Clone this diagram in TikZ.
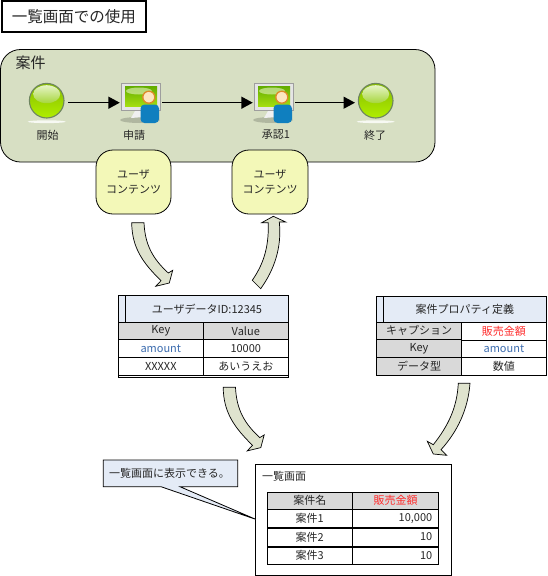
\documentclass[tikz,border=0pt]{standalone}
\usepackage{fontspec}
\setmainfont{Noto Sans CJK JP}
\usetikzlibrary{arrows.meta}
\definecolor{casefill}{HTML}{D7DFC3}
\definecolor{bubblefill}{HTML}{F3F8B8}
\definecolor{bendfill}{HTML}{DFE3CE}
\definecolor{headblue}{HTML}{E4EBF6}
\definecolor{headgray}{HTML}{D9D9D9}
\definecolor{keyblue}{HTML}{3D6DAF}
\definecolor{capred}{HTML}{FF2A2A}
\definecolor{inkgray}{HTML}{262626}
\definecolor{ballring}{HTML}{6E8560}
\definecolor{balltop}{HTML}{86BC00}
\definecolor{ballbottom}{HTML}{B0EE00}
\definecolor{glosstop}{HTML}{E6F4C6}
\definecolor{glossbottom}{HTML}{A6D63C}
\definecolor{screentop}{HTML}{62AC00}
\definecolor{screenbottom}{HTML}{A4DE10}
\definecolor{bodyblue}{HTML}{0F7FBF}
\definecolor{headrim}{HTML}{DE8A28}
\definecolor{facefill}{HTML}{FCE6C0}
\tikzset{
  cell/.style 2 args={draw=black, line width=0.8pt, rectangle, minimum width=#1pt, minimum height=#2pt, inner sep=0pt, font=\fontsize{11}{13}\selectfont, text=inkgray},
  numcell/.style={cell={86.4}{18}, text width=73.6pt, align=right, inner xsep=6.4pt},
  iconbox/.style={minimum height=40pt, inner sep=0pt, rectangle},
  bubble/.style={draw=black, line width=0.8pt, fill=bubblefill, rounded corners=17pt, minimum width=75pt, minimum height=64pt, inner sep=0pt, align=center, font=\fontsize{11}{15}\selectfont, text=inkgray},
  caption/.style={font=\fontsize{11}{13}\selectfont, text=inkgray, inner sep=0pt},
  flow/.style={line width=1.5pt, -{Triangle[length=11.5pt,width=12pt]}},
  bentarrow/.style={draw=black, line width=0.7pt, fill=bendfill, line join=miter},
  sphere/.pic={
    \fill[white!80!casefill] (0,21) ellipse (19pt and 1.4pt);
    \shade[top color=balltop, bottom color=ballbottom, draw=ballring, line width=1.1pt] (0,0) circle (17.3pt);
    \shade[top color=glosstop, bottom color=glossbottom] (0,-6.5) ellipse (13.5pt and 9pt);
  },
  usericon/.pic={
    \fill[black!18!casefill] (-1,17) ellipse (20pt and 3pt);
    \fill[black!6] (-6,8) -- (2,8) -- (3,14) -- (-10,15) -- cycle;
    \fill[black!38] (-20,-20) rectangle (20,8);
    \fill[black!10] (-19,-19) rectangle (19,7);
    \shade[top color=screentop, bottom color=screenbottom] (-16,-17) rectangle (16,3);
    \fill[glosstop, opacity=0.6] (-2,-12) ellipse (13pt and 3.5pt);
    \fill[bodyblue, rounded corners=4pt] (-0.5,1.5) rectangle (18,20);
    \draw[headrim, fill=facefill, line width=1.3pt] (7.8,-5.8) circle (6pt);
  },
  bentdown/.pic={
    \draw[bentarrow] (131.7,222.7) -- (144,222.7) .. controls (145,245) and (153,259) .. (168.3,273) -- (172.7,270.3) -- (169.3,283) -- (155.7,286.3) -- (161,280.7) .. controls (143,263) and (132,248) .. cycle;
  },
}
\begin{document}
\begin{tikzpicture}[x=1pt, y=-1pt]
  \useasboundingbox (0,0) rectangle (547,576);
  % title
  \node[cell={144}{31}, line width=1.2pt, font=\fontsize{15.5}{18}\selectfont] (title) at (74,16.5) {一覧画面での使用};
  % flow
  \draw[draw=black, line width=0.8pt, fill=casefill, rounded corners=20pt] (0.5,49.5) rectangle (435,162);
  \node[caption, font=\fontsize{15}{18}\selectfont] (caseTitle) at (30.7,63) {案件};
  \node[iconbox, minimum width=43pt] (start) at (46.7,102.7) {};
  \node[iconbox, minimum width=42pt] (apply) at (141,102.7) {};
  \node[iconbox, minimum width=42pt] (approve) at (274,102.7) {};
  \node[iconbox, minimum width=41pt] (finish) at (375.7,102.7) {};
  \pic at (46.7,100.7) {sphere};
  \pic at (141,103) {usericon};
  \pic at (274,103) {usericon};
  \pic at (375.7,100.7) {sphere};
  \draw[flow] (start) -- (apply);
  \draw[flow] (apply) -- (approve);
  \draw[flow] (approve) -- (finish);
  \node[caption] (startLabel) at (47.7,135) {開始};
  \node[caption] (applyLabel) at (134,135) {申請};
  \node[caption] (approveLabel) at (276,135) {承認1};
  \node[caption] (finishLabel) at (375,135) {終了};
  \node[bubble] (contentA) at (133.5,182) {ユーザ\\コンテンツ};
  \node[bubble, minimum width=76pt] (contentB) at (270,182) {ユーザ\\コンテンツ};
  % arrows between the parts
  \pic at (0,0) {bentdown};
  \pic at (91.5,164.6) {bentdown};
  \draw[bentarrow] (252.3,280.3) .. controls (262,266) and (269,250) .. (268.3,222.7) -- (261.7,222.7) -- (273.3,216.3) -- (285.7,222) -- (279.3,222) .. controls (282,248) and (274,270) .. (260.7,288.7) -- cycle;
  \draw[bentarrow] (458.3,383.3) -- (470,383.3) .. controls (468,410) and (457,432) .. (441,449.7) -- (446.7,455.3) -- (433.3,454) -- (427.3,441.3) -- (433.3,444.7) .. controls (448,426) and (457,408) .. cycle;
  % user data table
  \node[cell={7.4}{27}, fill=headblue] (userMark) at (122,308.8) {};
  \node[cell={162.6}{27}, fill=headblue] (userHead) at (207,308.8) {ユーザデータID:12345};
  \node[cell={85}{17}, fill=headgray] (userKey) at (160.8,330.8) {Key};
  \node[cell={85}{17}, fill=headgray] (userValue) at (245.8,330.8) {Value};
  \node[cell={85}{18}, text=keyblue] (userAmount) at (160.8,348.3) {amount};
  \node[cell={85}{18}] (userTen) at (245.8,348.3) {10000};
  \node[cell={85}{17.7}] (userX) at (160.8,366.2) {XXXXX};
  \node[cell={85}{17.7}] (userKana) at (245.8,366.2) {あいうえお};
  \node[cell={170}{2.3}, minimum height=2.3pt] (userEnd) at (203.3,376.2) {};
  % property table
  \node[cell={6.6}{25.6}, fill=headblue] (propMark) at (380,309.5) {};
  \node[cell={163.2}{25.6}, fill=headblue] (propHead) at (464.9,309.5) {案件プロパティ定義};
  \node[cell={84.6}{17}, fill=headgray] (propCaption) at (419,330.8) {キャプション};
  \node[cell={84.6}{18}, fill=headgray] (propKey) at (419,348.3) {Key};
  \node[cell={84.6}{18}, fill=headgray] (propType) at (419,366.3) {データ型};
  \node[cell={85.2}{18.4}, text=capred] (propSales) at (503.9,331.5) {販売金額};
  \node[cell={85.2}{16.6}, text=keyblue] (propAmount) at (503.9,349) {amount};
  \node[cell={85.2}{18}] (propNumber) at (503.9,366.3) {数値};
  % list screen
  \node[cell={195.4}{110.8}, anchor=north west] (screen) at (255.3,464.3) {};
  \node[caption] (screenTitle) at (284,476.7) {一覧画面};
  \node[cell={85}{17}, fill=headgray] (listName) at (309.8,500.8) {案件名};
  \node[cell={86.4}{17}, fill=headgray, text=capred] (listSales) at (395.5,500.8) {販売金額};
  \node[cell={85}{18}] (rowA) at (309.8,518.3) {案件1};
  \node[numcell] (numA) at (395.5,518.3) {10,000};
  \node[cell={85}{18}] (rowB) at (309.8,537) {案件2};
  \node[numcell] (numB) at (395.5,537) {10};
  \node[cell={85}{17.3}] (rowC) at (309.8,555.6) {案件3};
  \node[numcell, minimum height=17.3pt] (numC) at (395.5,555.6) {10};
  % note
  \coordinate (noteTip) at (255.7,519.3);
  \draw[draw=black, line width=0.8pt, fill=headblue] (103.3,460) -- (237.7,460) -- (237.7,486.7) -- (180,486.7) -- (noteTip) -- (161,486.7) -- (103.3,486.7) -- cycle;
  \node[caption] (note) at (169.5,473.5) {一覧画面に表示できる。};
\end{tikzpicture}
\end{document}
